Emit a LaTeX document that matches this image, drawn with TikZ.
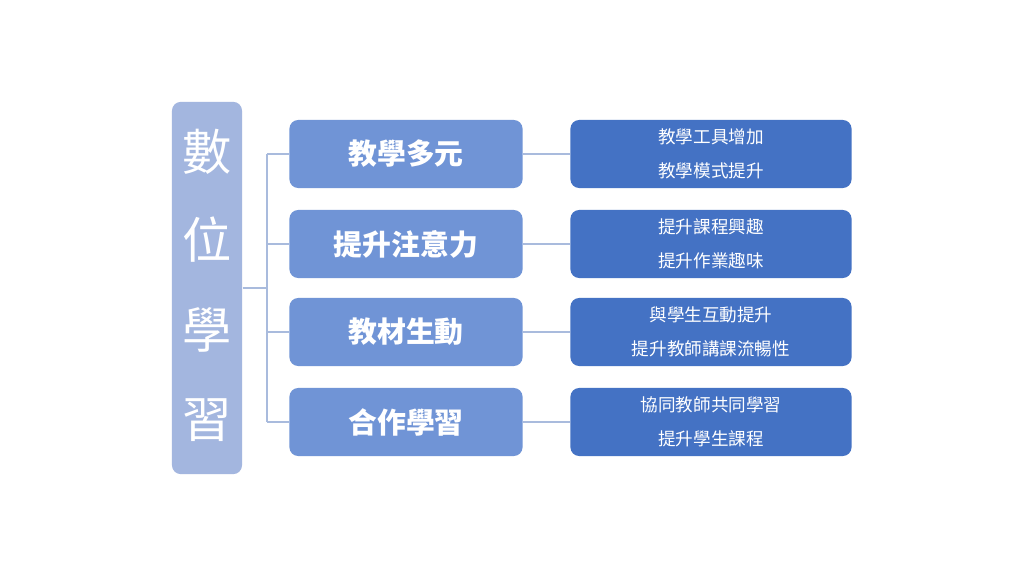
\documentclass[tikz,border=0pt]{standalone}
\usepackage{fontspec}
\setmainfont{Noto Sans CJK TC}
\begin{document}
\begin{tikzpicture}[x=0.01cm,y=-0.01cm,
  leftbox/.style={fill=lb,rounded corners=2.5pt,draw=none},
  midbox/.style={fill=mb,rounded corners=2.5pt,draw=none,inner sep=0pt,minimum width=233cm/100,minimum height=68cm/100,text=white,font=\fontsize{8.2}{10}\selectfont\bfseries},
  rightbox/.style={fill=rb,rounded corners=2.5pt,draw=none,inner sep=0pt,minimum width=281cm/100,minimum height=68cm/100,text=white,font=\fontsize{5}{9.5}\selectfont,align=center},
  conn/.style={draw=ln,line width=0.3pt}]
\definecolor{lb}{HTML}{A3B6DF}
\definecolor{mb}{HTML}{7094D6}
\definecolor{rb}{HTML}{4472C4}
\definecolor{ln}{HTML}{A9BBDD}
\useasboundingbox (0,0) rectangle (1024,576);
\fill[white] (0,0) rectangle (1024,576);
\node[leftbox,minimum width=70cm/100,minimum height=372cm/100] (L) at (207,288) {};
\foreach \t/\y in {數/152,位/240,學/330,習/420}
  \node[text=white,font=\fontsize{14}{16}\selectfont] at (207,\y) {\t};
\coordinate (J) at (267,288);
\foreach \i/\y/\m/\r in {1/154/教學多元/{教學工具增加\\教學模式提升},2/244/提升注意力/{提升課程興趣\\提升作業趣味},3/332/教材生動/{與學生互動提升\\提升教師講課流暢性},4/422/合作學習/{協同教師共同學習\\提升學生課程}}{
  \node[midbox] (M\i) at (406,\y) {\m};
  \node[rightbox] (R\i) at (711,\y) {\r};
  \draw[conn] (M\i.east) -- (R\i.west);
  \draw[conn] (M\i.west) -- (267,\y);
}
\draw[conn] (L.east) -- (J);
\draw[conn] (267,154) -- (267,422);
\end{tikzpicture}
\end{document}
